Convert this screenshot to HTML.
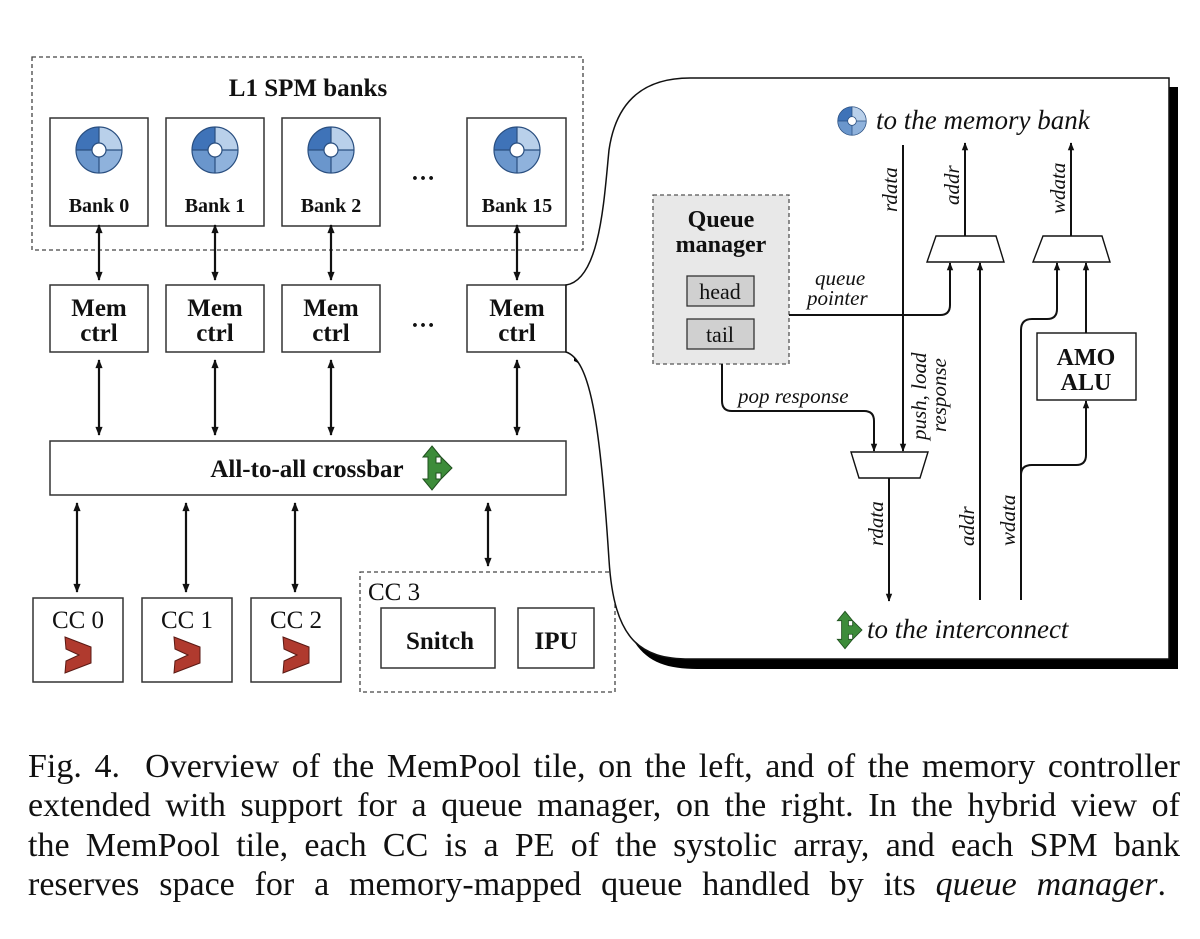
<!DOCTYPE html>
<html><head><meta charset="utf-8"><style>
html,body{margin:0;padding:0;background:#fff}
svg{display:block}
.b{font-family:"Liberation Serif",serif;font-weight:bold;fill:#111}
.i{font-family:"Liberation Serif",serif;font-style:italic;fill:#111}
.r{font-family:"Liberation Serif",serif;fill:#111}
.cap{position:absolute;left:28px;width:1152px;font-family:"Liberation Serif",serif;font-size:34px;line-height:38px;color:#111;text-align:justify;text-align-last:justify;white-space:nowrap}
</style></head><body>
<div style="position:relative;width:1200px;height:939px">
<svg width="1200" height="939" viewBox="0 0 1200 939" xmlns="http://www.w3.org/2000/svg">
<defs>
<marker id="a" viewBox="0 0 10 10" refX="9" refY="5" markerWidth="9" markerHeight="8" orient="auto-start-reverse" markerUnits="userSpaceOnUse"><path d="M0,1 L10,5 L0,9 Z" fill="#111"/></marker>
<marker id="s" viewBox="0 0 10 10" refX="9" refY="5" markerWidth="10" markerHeight="9" orient="auto-start-reverse" markerUnits="userSpaceOnUse"><path d="M0,1 L10,5 L0,9 Z" fill="#111"/></marker>
<g id="disk">
<path d="M0,0 L0,-23 A23,23 0 0 0 -23,0 Z" fill="#3f73b8"/>
<path d="M0,0 L0,-23 A23,23 0 0 1 23,0 Z" fill="#b9d0ea"/>
<path d="M0,0 L-23,0 A23,23 0 0 0 0,23 Z" fill="#6a96cc"/>
<path d="M0,0 L23,0 A23,23 0 0 1 0,23 Z" fill="#8fb2dc"/>
<circle r="23" fill="none" stroke="#2a4f80" stroke-width="1.2"/>
<path d="M-23,0 H23 M0,-23 V23" stroke="#2a4f80" stroke-width="1.2"/>
<circle r="7" fill="#fff" stroke="#2a4f80" stroke-width="1.2"/>
</g>
<g id="cc"><polygon points="0,0 26,10 26,26 0,36 1,24 14,18 1,12" fill="#b03a2e" stroke="#5a1a14" stroke-width="1"/></g>
<g id="gr"><polygon points="0,-22 9,-11 4,-11 4,-5 9,-5 9,-11 20,0 9,11 9,5 4,5 4,11 9,11 0,22 -9,11 -4,11 -4,-11 -9,-11" fill="#3d8c3a" stroke="#1f4f1e" stroke-width="1"/></g>
</defs>

<rect x="32" y="57" width="551" height="193" fill="none" stroke="#444" stroke-width="1.3" stroke-dasharray="4,3"/>
<text x="308" y="96" text-anchor="middle" class="b" font-size="25">L1 SPM banks</text>

<g stroke="#333" stroke-width="1.5" fill="#fff">
<rect x="50" y="118" width="98" height="108"/><rect x="166" y="118" width="98" height="108"/>
<rect x="282" y="118" width="98" height="108"/><rect x="467" y="118" width="99" height="108"/>
<rect x="50" y="285" width="98" height="67"/><rect x="166" y="285" width="98" height="67"/>
<rect x="282" y="285" width="98" height="67"/><rect x="467" y="285" width="99" height="67"/>
<rect x="50" y="441" width="516" height="54"/>
<rect x="33" y="598" width="90" height="84"/><rect x="142" y="598" width="90" height="84"/><rect x="251" y="598" width="90" height="84"/>
</g>
<use href="#disk" x="99" y="150"/><use href="#disk" x="215" y="150"/><use href="#disk" x="331" y="150"/><use href="#disk" x="517" y="150"/>
<g class="b" font-size="20" text-anchor="middle">
<text x="99" y="212">Bank 0</text><text x="215" y="212">Bank 1</text><text x="331" y="212">Bank 2</text><text x="517" y="212">Bank 15</text>
</g>
<g class="b" font-size="25" text-anchor="middle">
<text x="99" y="316">Mem</text><text x="99" y="341">ctrl</text>
<text x="215" y="316">Mem</text><text x="215" y="341">ctrl</text>
<text x="331" y="316">Mem</text><text x="331" y="341">ctrl</text>
<text x="517" y="316">Mem</text><text x="517" y="341">ctrl</text>
</g>
<text x="423" y="180" class="b" font-size="24" text-anchor="middle">…</text>
<text x="423" y="327" class="b" font-size="24" text-anchor="middle">…</text>
<text x="307" y="477" class="b" font-size="25" text-anchor="middle">All-to-all crossbar</text>
<use href="#gr" x="432" y="468"/>

<g stroke="#111" stroke-width="2.2" marker-start="url(#s)" marker-end="url(#s)">
<line x1="99" y1="225" x2="99" y2="280"/><line x1="215" y1="225" x2="215" y2="280"/><line x1="331" y1="225" x2="331" y2="280"/><line x1="517" y1="225" x2="517" y2="280"/>
<line x1="99" y1="360" x2="99" y2="435"/><line x1="215" y1="360" x2="215" y2="435"/><line x1="331" y1="360" x2="331" y2="435"/><line x1="517" y1="360" x2="517" y2="435"/>
<line x1="77" y1="503" x2="77" y2="592"/><line x1="186" y1="503" x2="186" y2="592"/><line x1="295" y1="503" x2="295" y2="592"/><line x1="488" y1="503" x2="488" y2="566"/>
</g>

<g class="r" font-size="25" text-anchor="middle">
<text x="78" y="628">CC 0</text><text x="187" y="628">CC 1</text><text x="296" y="628">CC 2</text>
</g>
<use href="#cc" x="65" y="637"/><use href="#cc" x="174" y="637"/><use href="#cc" x="283" y="637"/>

<rect x="360" y="572" width="255" height="120" fill="none" stroke="#444" stroke-width="1.3" stroke-dasharray="4,3"/>
<text x="368" y="600" class="r" font-size="25">CC 3</text>
<rect x="381" y="608" width="114" height="60" fill="#fff" stroke="#333" stroke-width="1.5"/>
<rect x="518" y="608" width="76" height="60" fill="#fff" stroke="#333" stroke-width="1.5"/>
<text x="440" y="649" class="b" font-size="25" text-anchor="middle">Snitch</text>
<text x="556" y="649" class="b" font-size="25" text-anchor="middle">IPU</text>

<path d="M574,294 C608,289 612,205 617,159 C625,104 657,87 697,87 L1178,87 L1178,669 L697,669 C647,669 622,650 617,570 C607,430 597,370 574,361 Z" fill="#000"/>
<path d="M566,285 C600,280 604,200 609,150 C617,95 650,78 690,78 L1169,78 L1169,659 L690,659 C640,659 614,640 609,560 C600,420 590,360 566,352 Z" fill="#fff" stroke="#111" stroke-width="1.5"/>

<use href="#disk" transform="translate(852,121) scale(0.62)"/>
<text x="876" y="129" class="i" font-size="27">to the memory bank</text>
<use href="#gr" transform="translate(845,630) scale(0.85)"/>
<text x="867" y="638" class="i" font-size="27">to the interconnect</text>

<rect x="653" y="195" width="136" height="169" fill="#e8e8e8" stroke="#555" stroke-width="1.3" stroke-dasharray="4,3"/>
<text x="721" y="227" class="b" font-size="24" text-anchor="middle">Queue</text>
<text x="721" y="252" class="b" font-size="24" text-anchor="middle">manager</text>
<rect x="687" y="276" width="67" height="30" fill="#d0d0d0" stroke="#333" stroke-width="1.3"/>
<rect x="687" y="319" width="67" height="30" fill="#d0d0d0" stroke="#333" stroke-width="1.3"/>
<text x="720" y="299" class="r" font-size="22" text-anchor="middle">head</text>
<text x="720" y="342" class="r" font-size="22" text-anchor="middle">tail</text>

<g fill="#fff" stroke="#111" stroke-width="1.4">
<polygon points="936,236 996,236 1004,262 927,262"/>
<polygon points="1043,236 1102,236 1110,262 1033,262"/>
<polygon points="851,452 928,452 920,478 859,478"/>
<rect x="1037" y="333" width="99" height="67"/>
</g>
<text x="1086" y="365" class="b" font-size="24" text-anchor="middle">AMO</text>
<text x="1086" y="390" class="b" font-size="24" text-anchor="middle">ALU</text>

<g stroke="#111" stroke-width="2" fill="none" marker-end="url(#a)">
<line x1="903" y1="145" x2="903" y2="451"/>
<line x1="965" y1="236" x2="965" y2="143"/>
<line x1="1071" y1="236" x2="1071" y2="143"/>
<path d="M789,315 H940 Q950,315 950,305 V263"/>
<line x1="980" y1="600" x2="980" y2="263"/>
<path d="M1021,600 V330 Q1021,319 1032,319 H1047 Q1057,319 1057,309 V263"/>
<path d="M1021,475 Q1021,465 1032,465 H1076 Q1086,465 1086,455 V401"/>
<line x1="1086" y1="333" x2="1086" y2="263"/>
<path d="M722,364 V401 Q722,411 732,411 H864 Q874,411 874,421 V451"/>
<line x1="889" y1="478" x2="889" y2="601"/>
</g>

<g class="i" font-size="21">
<text transform="translate(897,212) rotate(-90)">rdata</text>
<text transform="translate(959,205) rotate(-90)">addr</text>
<text transform="translate(1065,214) rotate(-90)">wdata</text>
<text transform="translate(926,440) rotate(-90)">push, load</text>
<text transform="translate(946,432) rotate(-90)">response</text>
<text transform="translate(883,546) rotate(-90)">rdata</text>
<text transform="translate(974,546) rotate(-90)">addr</text>
<text transform="translate(1015,546) rotate(-90)">wdata</text>
<text x="815" y="285">queue</text>
<text x="807" y="305">pointer</text>
<text x="738" y="403">pop response</text>
</g>
</svg>
<div class="cap" style="top:748px">Fig. 4.&nbsp; Overview of the MemPool tile, on the left, and of the memory controller</div>
<div class="cap" style="top:787px">extended with support for a queue manager, on the right. In the hybrid view of</div>
<div class="cap" style="top:827px">the MemPool tile, each CC is a PE of the systolic array, and each SPM bank</div>
<div class="cap" style="top:866px;width:1138px">reserves space for a memory-mapped queue handled by its <i>queue manager</i>.</div>
</div>
</body></html>
